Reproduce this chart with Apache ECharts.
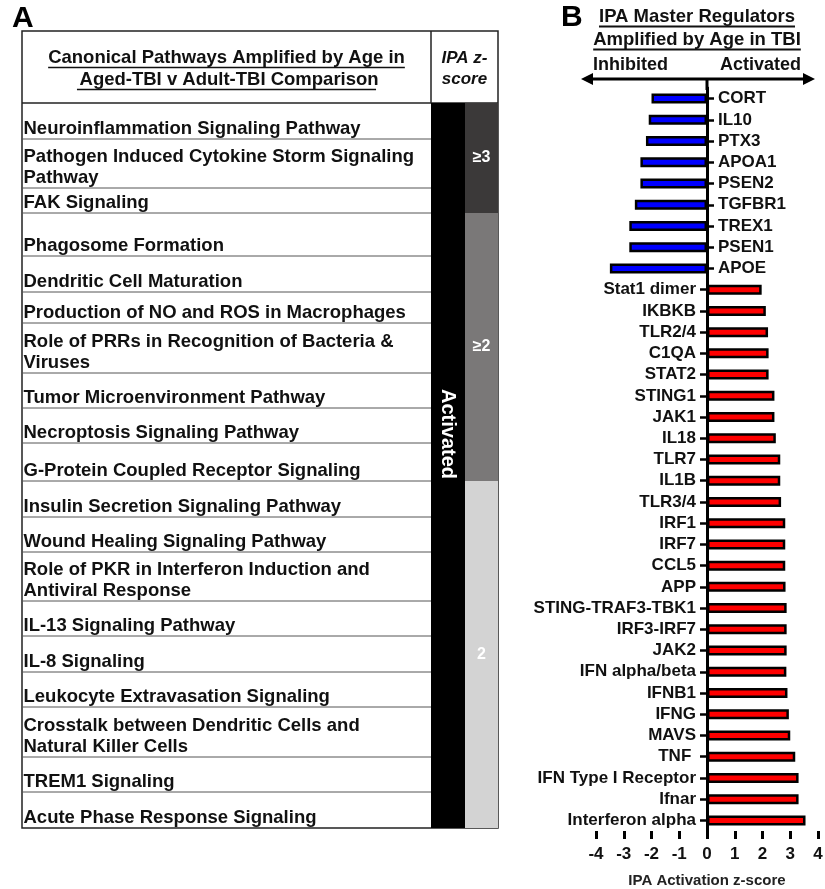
<!DOCTYPE html>
<html><head><meta charset="utf-8">
<script src="https://cdn.jsdelivr.net/npm/echarts@6/dist/echarts.min.js"></script>
<style>html,body{margin:0;padding:0;background:#fff}#c{width:825px;height:889px}</style>
</head><body><div id="c"></div>
<script>
// ---------- DATA ----------
const regulators = ['CORT','IL10','PTX3','APOA1','PSEN2','TGFBR1','TREX1','PSEN1','APOE',
  'Stat1 dimer','IKBKB','TLR2/4','C1QA','STAT2','STING1','JAK1','IL18','TLR7','IL1B','TLR3/4',
  'IRF1','IRF7','CCL5','APP','STING-TRAF3-TBK1','IRF3-IRF7','JAK2','IFN alpha/beta','IFNB1',
  'IFNG','MAVS','TNF ','IFN Type I Receptor','Ifnar','Interferon alpha'];
const zScores = [-2.0,-2.1,-2.2,-2.4,-2.4,-2.6,-2.8,-2.8,-3.5,
  1.97,2.12,2.2,2.22,2.22,2.43,2.43,2.48,2.64,2.64,2.67,
  2.82,2.82,2.82,2.83,2.87,2.87,2.87,2.86,2.9,
  2.95,3.0,3.18,3.3,3.3,3.55];
const xTickValues = [-4,-3,-2,-1,0,1,2,3,4];
const pathways = ['Neuroinflammation Signaling Pathway',
  'Pathogen Induced Cytokine Storm Signaling\nPathway',
  'FAK Signaling',
  'Phagosome Formation',
  'Dendritic Cell Maturation',
  'Production of NO and ROS in Macrophages',
  'Role of PRRs in Recognition of Bacteria &\nViruses',
  'Tumor Microenvironment Pathway',
  'Necroptosis Signaling Pathway',
  'G-Protein Coupled Receptor Signaling',
  'Insulin Secretion Signaling Pathway',
  'Wound Healing Signaling Pathway',
  'Role of PKR in Interferon Induction and\nAntiviral Response',
  'IL-13 Signaling Pathway',
  'IL-8 Signaling',
  'Leukocyte Extravasation Signaling',
  'Crosstalk between Dendritic Cells and\nNatural Killer Cells',
  'TREM1 Signaling',
  'Acute Phase Response Signaling'];
const zGroupLabels = ['\u22653','\u22652','2'];
const zGroupCounts = [3,7,9];
const stateLabel = 'Activated';
const tableHeader = ['Canonical Pathways Amplified by Age in',' Aged-TBI v Adult-TBI Comparison'];
const zHeader = 'IPA z-\nscore';
const titleB = ['IPA Master Regulators','Amplified by Age in TBI'];

// ---------- LAYOUT / STYLE ----------
const FF = '"Liberation Sans", Arial, Helvetica, sans-serif';
const rowHeights = [36,49,25,43,36,31,50,35,35,38,36,35,49,35,36,35,50,35,36];
const T = {left:22, right:498, top:31, headBottom:103, col1:431, col2:465};
const zColors = ['#3b3939','#7a7878','#d3d3d3'];

const ctx = document.createElement('canvas').getContext('2d');
function textW(t, font){ ctx.font = font; return ctx.measureText(t).width; }

const g = [];
g.push({type:'text', x:12, y:19, style:{text:'A', font:'bold 30px '+FF, fill:'#000', align:'left', verticalAlign:'middle'}});
g.push({type:'text', x:561, y:18, style:{text:'B', font:'bold 30px '+FF, fill:'#000', align:'left', verticalAlign:'middle'}});

// table
const rowsBottom = [];
let yy = T.headBottom;
rowHeights.forEach(h => { yy += h; rowsBottom.push(yy); });
const tableBottom = rowsBottom[rowsBottom.length-1];
g.push({type:'rect', shape:{x:T.left, y:T.top, width:T.right-T.left, height:tableBottom-T.top}, style:{fill:'#fff', stroke:'#222', lineWidth:1.5}});
g.push({type:'line', shape:{x1:T.col1, y1:T.top, x2:T.col1, y2:T.headBottom}, style:{stroke:'#222', lineWidth:1.5}});
g.push({type:'line', shape:{x1:T.left, y1:T.headBottom, x2:T.right, y2:T.headBottom}, style:{stroke:'#222', lineWidth:1.5}});
const hFont = 'bold 18.5px ' + FF;
tableHeader.forEach((t,i) => {
  const cx = (T.left + T.col1)/2, cy = 58 + i*22;
  g.push({type:'text', x:cx, y:cy, style:{text:t, font:hFont, fill:'#111', align:'center', verticalAlign:'middle'}});
  const w = textW(t.trim(), hFont);
  g.push({type:'line', shape:{x1:cx-w/2, y1:cy+9.5, x2:cx+w/2, y2:cy+9.5}, style:{stroke:'#111', lineWidth:1.5}});
});
g.push({type:'text', x:(T.col1+T.right)/2, y:69, style:{text:zHeader, font:'italic bold 17px '+FF, fill:'#111', align:'center', verticalAlign:'middle', lineHeight:21}});
g.push({type:'rect', shape:{x:T.col1, y:T.headBottom, width:T.col2-T.col1, height:tableBottom-T.headBottom}, style:{fill:'#000'}});
g.push({type:'text', x:(T.col1+T.col2)/2, y:434, rotation:-Math.PI/2, style:{text:stateLabel, font:'bold 20px '+FF, fill:'#fff', align:'center', verticalAlign:'middle'}});
let startRow = 0;
zGroupCounts.forEach((n,i) => {
  const y0 = startRow === 0 ? T.headBottom : rowsBottom[startRow-1];
  const y1 = rowsBottom[startRow+n-1];
  g.push({type:'rect', shape:{x:T.col2, y:y0, width:T.right-T.col2, height:y1-y0}, style:{fill:zColors[i]}});
  g.push({type:'text', x:(T.col2+T.right)/2, y:(y0+y1)/2, style:{text:zGroupLabels[i], font:'bold 16px '+FF, fill:'#fff', align:'center', verticalAlign:'middle'}});
  startRow += n;
});
pathways.forEach((p,i) => {
  const b = rowsBottom[i];
  if (i < pathways.length-1) g.push({type:'line', shape:{x1:T.left, y1:b, x2:T.col1, y2:b}, style:{stroke:'#555', lineWidth:1}});
  g.push({type:'text', x:T.left+1.5, y:b+0.5, style:{text:p, font:'bold 18.5px '+FF, fill:'#111', align:'left', verticalAlign:'bottom', lineHeight:21}});
});
// panel B title
const tFont = 'bold 18.5px ' + FF;
titleB.forEach((t,i) => {
  const cx = 697, cy = 17 + i*23;
  g.push({type:'text', x:cx, y:cy, style:{text:t, font:tFont, fill:'#111', align:'center', verticalAlign:'middle'}});
  const w = textW(t, tFont);
  g.push({type:'line', shape:{x1:cx-w/2, y1:cy+9.5, x2:cx+w/2, y2:cy+9.5}, style:{stroke:'#111', lineWidth:1.8}});
});
const arrowY = 79;
g.push({type:'text', x:593, y:65, style:{text:'Inhibited', font:'bold 18px '+FF, fill:'#111', align:'left', verticalAlign:'middle'}});
g.push({type:'text', x:801, y:65, style:{text:'Activated', font:'bold 18px '+FF, fill:'#111', align:'right', verticalAlign:'middle'}});
g.push({type:'line', shape:{x1:588, y1:arrowY, x2:808, y2:arrowY}, style:{stroke:'#000', lineWidth:3}});
g.push({type:'polygon', shape:{points:[[581,arrowY],[593,arrowY-6],[593,arrowY+6]]}, style:{fill:'#000'}});
g.push({type:'polygon', shape:{points:[[815,arrowY],[803,arrowY-6],[803,arrowY+6]]}, style:{fill:'#000'}});

const chart = echarts.init(document.getElementById('c'), null, {renderer:'canvas'});
const labelStyle = {fontSize:17, fontWeight:'bold', color:'#111', fontFamily:FF, opacity:1};
function catAxis(pos, pick){
  return {type:'category', data:regulators, inverse:true, position:pos,
    axisLine:{onZero:true, onZeroAxisIndex:0, lineStyle:{color:'#000', width:3}},
    axisTick:{show:true, alignWithLabel:true, length:7, interval:(i)=>pick(zScores[i]), lineStyle:{color:'#000', width:2.5}},
    axisLabel:{show:false}, splitLine:{show:false}};
}
function labelSeries(pick, pos){
  return {type:'scatter', yAxisIndex:0, symbolSize:0, silent:true,
    itemStyle:{opacity:1},
    data: regulators.map((n,i)=>[0,n,zScores[i]]).filter(d=>pick(d[2])),
    label:Object.assign({show:true, position:pos, distance:11, formatter:p=>p.value[1]}, labelStyle)};
}
const option = {
  animation:false,
  backgroundColor:'#fff',
  grid:{left:596, right:7, top:88, bottom:58, containLabel:false, outerBoundsMode:'none'},
  xAxis:{type:'value', min:xTickValues[0], max:xTickValues[xTickValues.length-1], interval:1,
    axisLine:{onZero:false, lineStyle:{color:'#000', width:3}},
    axisTick:{show:true, length:8, lineStyle:{color:'#000', width:3}},
    splitLine:{show:false},
    axisLabel:{fontSize:17, fontWeight:'bold', color:'#111', fontFamily:FF, margin:15, showMinLabel:true, showMaxLabel:true},
    name:'IPA Activation z-score', nameLocation:'middle', nameGap:42,
    nameTextStyle:{fontSize:15, fontWeight:'bold', color:'#222', fontFamily:FF}},
  yAxis:[catAxis('left', v=>v>0), catAxis('right', v=>v<0)],
  series:[
    {type:'bar', yAxisIndex:0, barWidth:10, silent:true,
     data: zScores.map(v => ({value:v, itemStyle:{color: v < 0 ? '#0000ff' : '#ff0000'}})),
     itemStyle:{borderColor:'#000', borderWidth:2.5}},
    labelSeries(v=>v>0, 'left'),
    labelSeries(v=>v<0, 'right')
  ],
  graphic:{elements:g}
};
chart.setOption(option);
const zx = chart.convertToPixel({xAxisIndex:0}, 0);
g.push({type:'line', shape:{x1:zx, y1:arrowY, x2:zx, y2:90}, style:{stroke:'#000', lineWidth:3}});
chart.setOption({graphic:{elements:g}});
</script>
</body></html>
